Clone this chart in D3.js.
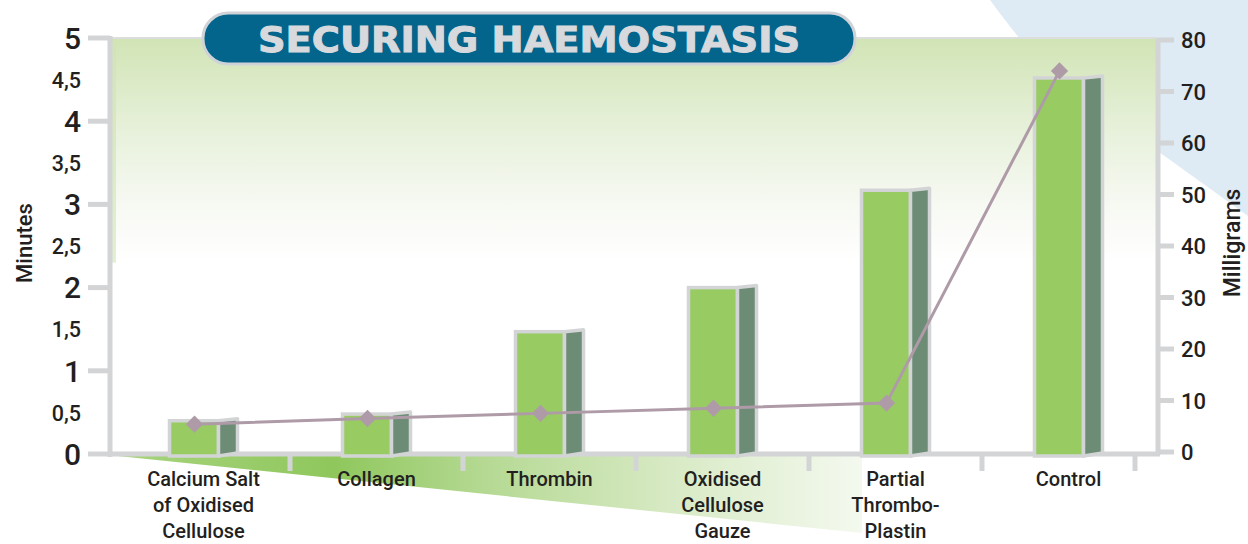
<!DOCTYPE html>
<html>
<head>
<meta charset="utf-8">
<script src="https://cdnjs.cloudflare.com/ajax/libs/d3/7.8.5/d3.min.js"></script>
<style>
  body { margin: 0; background: #fff; }
  text { font-family: Roboto, "DejaVu Sans", sans-serif; fill: #231f20; }
</style>
</head>
<body>
<div id="display-container"></div>
<script>
// data
var categories = ["Calcium Salt of Oxidised Cellulose", "Collagen", "Thrombin",
                  "Oxidised Cellulose Gauze", "Partial Thrombo-Plastin", "Control"];
var labelLines = [["Calcium Salt", "of Oxidised", "Cellulose"], ["Collagen"], ["Thrombin"],
                  ["Oxidised", "Cellulose", "Gauze"], ["Partial", "Thrombo-", "Plastin"], ["Control"]];
var minutes = [0.4, 0.48, 1.47, 2.0, 3.17, 4.52];
var milligrams = [5.4, 6.5, 7.5, 8.5, 9.5, 74];
var minuteTicks = [0, 0.5, 1, 1.5, 2, 2.5, 3, 3.5, 4, 4.5, 5];
var mgTicks = [0, 10, 20, 30, 40, 50, 60, 70, 80];
var title = "SECURING HAEMOSTASIS";

var width = 1248, height = 544;
var grey = "#d3d4d6";

var svg = d3.select("#display-container").append("svg")
    .attr("width", width)
    .attr("height", height);

var x = d3.scaleBand().domain(categories).range([117, 1155]);
var yL = d3.scaleLinear().domain([0, 5]).range([454, 38]);
var yR = d3.scaleLinear().domain([0, 80]).range([452, 40]);

var defs = svg.append("defs");
var bgGrad = defs.append("linearGradient").attr("id", "bgGrad")
    .attr("x1", 0).attr("y1", 0).attr("x2", 0).attr("y2", 1);
bgGrad.append("stop").attr("offset", 0).attr("stop-color", "#d1e4b5");
bgGrad.append("stop").attr("offset", 0.45).attr("stop-color", "#e9f2de");
bgGrad.append("stop").attr("offset", 0.75).attr("stop-color", "#f7f9f3");
bgGrad.append("stop").attr("offset", 1).attr("stop-color", "#ffffff");

var edgeGrad = defs.append("linearGradient").attr("id", "edgeGrad")
    .attr("x1", 0).attr("y1", 0).attr("x2", 0).attr("y2", 1);
edgeGrad.append("stop").attr("offset", 0).attr("stop-color", "#d1e4b5");
edgeGrad.append("stop").attr("offset", 1).attr("stop-color", "#e2f0d3");

var floorGrad = defs.append("linearGradient").attr("id", "floorGrad")
    .attr("x1", 0).attr("y1", 0).attr("x2", 1).attr("y2", 0);
floorGrad.append("stop").attr("offset", 0).attr("stop-color", "#a9d480");
floorGrad.append("stop").attr("offset", 0.3).attr("stop-color", "#8fc75c");
floorGrad.append("stop").attr("offset", 0.5).attr("stop-color", "#b5d993");
floorGrad.append("stop").attr("offset", 0.75).attr("stop-color", "#d8eac5");
floorGrad.append("stop").attr("offset", 1).attr("stop-color", "#f4f9ef");

// light blue corner shape
svg.append("path")
    .attr("d", "M990,0 L1248,0 L1248,216 L1045,70 Q1012,30 990,0 Z")
    .attr("fill", "#deebf4");

// plot background
svg.append("rect")
    .attr("x", 112).attr("y", yL(5))
    .attr("width", 1157 - 112).attr("height", yL(0) - yL(5))
    .attr("fill", "#fff");
svg.append("rect")
    .attr("x", 112).attr("y", yL(5))
    .attr("width", 1157 - 112).attr("height", yL(2.3) - yL(5))
    .attr("fill", "url(#bgGrad)");
svg.append("rect")
    .attr("x", 112).attr("y", yL(5))
    .attr("width", 4).attr("height", yL(2.3) - yL(5))
    .attr("fill", "url(#edgeGrad)");
svg.append("line")
    .attr("x1", 112).attr("x2", 1157)
    .attr("y1", yL(5)).attr("y2", yL(5))
    .attr("stroke", "#dcdddd").attr("stroke-width", 2);

// green floor under the baseline
svg.append("path")
    .attr("d", "M108," + (yL(0) + 1) + " L862," + (yL(0) + 1) + " L862,533 Z")
    .attr("fill", "url(#floorGrad)");

// category separators below the baseline
var seps = categories.map(function(c) { return x(c) + x.step(); });
seps[seps.length - 1] = x(categories[categories.length - 1]) + x.step() - 20;
svg.selectAll(".sep").data(seps).enter().append("line")
    .attr("class", "sep")
    .attr("x1", function(d) { return d; }).attr("x2", function(d) { return d; })
    .attr("y1", yL(0)).attr("y2", yL(0) + 17)
    .attr("stroke", grey).attr("stroke-width", 5);

// baseline and axes
svg.append("line")
    .attr("x1", 108).attr("x2", 1160).attr("y1", yL(0)).attr("y2", yL(0))
    .attr("stroke", grey).attr("stroke-width", 5);
svg.append("line")
    .attr("x1", 110).attr("x2", 110).attr("y1", yL(5) - 2).attr("y2", yL(0) + 3)
    .attr("stroke", grey).attr("stroke-width", 5);
svg.append("line")
    .attr("x1", 1158).attr("x2", 1158).attr("y1", yR(80) - 2).attr("y2", yR(0) + 3)
    .attr("stroke", grey).attr("stroke-width", 5);

// left ticks, marks only on whole minutes
var lt = svg.selectAll(".lt").data(minuteTicks).enter().append("g").attr("class", "lt");
lt.filter(function(d) { return d % 1 === 0; }).append("line")
    .attr("x1", 88).attr("x2", 110)
    .attr("y1", function(d) { return yL(d); }).attr("y2", function(d) { return yL(d); })
    .attr("stroke", grey).attr("stroke-width", 5);
lt.append("text")
    .attr("x", 81)
    .attr("y", function(d) { return yL(d); })
    .attr("dy", function(d) { return d % 1 === 0 ? "0.36em" : "0.38em"; })
    .attr("text-anchor", "end")
    .style("font-size", function(d) { return d % 1 === 0 ? "30px" : "21.5px"; })
    .style("font-weight", 500)
    .text(function(d) { return String(d).replace(".", ","); });

// right ticks
var rt = svg.selectAll(".rt").data(mgTicks).enter().append("g").attr("class", "rt");
rt.append("line")
    .attr("x1", 1158).attr("x2", 1174)
    .attr("y1", function(d) { return yR(d); }).attr("y2", function(d) { return yR(d); })
    .attr("stroke", grey).attr("stroke-width", 5);
rt.append("text")
    .attr("x", 1181)
    .attr("y", function(d) { return yR(d); })
    .attr("dy", "0.37em")
    .style("font-size", "22px")
    .style("font-weight", 500)
    .text(function(d) { return d; });

// axis titles
svg.append("text")
    .attr("transform", "translate(32,243) rotate(-90)")
    .attr("text-anchor", "middle")
    .style("font-size", "22px").style("font-weight", 500)
    .text("Minutes");
svg.append("text")
    .attr("transform", "translate(1240,243) rotate(-90)")
    .attr("text-anchor", "middle")
    .style("font-size", "23px").style("font-weight", 500)
    .text("Milligrams");

// bars
var base = yL(0) + 2;
var bars = svg.selectAll(".bar").data(categories).enter().append("g").attr("class", "bar");
bars.append("rect")
    .attr("x", function(d) { return x(d) + x.step() / 2 - 34; })
    .attr("y", function(d, i) { return yL(minutes[i]); })
    .attr("width", 49)
    .attr("height", function(d, i) { return base - yL(minutes[i]); })
    .attr("fill", "#99cb63")
    .attr("stroke", grey).attr("stroke-width", 3.5);
bars.append("path")
    .attr("d", function(d, i) {
        var c = x(d) + x.step() / 2, t = yL(minutes[i]);
        return "M" + (c + 15) + "," + t + " L" + (c + 34) + "," + (t - 2) +
            " L" + (c + 34) + "," + (base - 3) + " L" + (c + 15) + "," + base + " Z";
    })
    .attr("fill", "#6d8c75")
    .attr("stroke", grey).attr("stroke-width", 3.5).attr("stroke-linejoin", "round");

// line series (milligrams)
var px = function(d) { return x(d) + x.step() / 2 - 9; };
var line = d3.line()
    .x(function(d, i) { return px(categories[i]); })
    .y(function(d) { return yR(d); });
svg.append("path")
    .datum(milligrams)
    .attr("d", line)
    .attr("fill", "none")
    .attr("stroke", "#ae9ba7").attr("stroke-width", 3);
svg.selectAll(".pt").data(milligrams).enter().append("path")
    .attr("class", "pt")
    .attr("d", d3.symbol().type(d3.symbolSquare).size(150))
    .attr("transform", function(d, i) {
        return "translate(" + px(categories[i]) + "," + yR(d) + ") rotate(45)";
    })
    .attr("fill", "#ae9ba7");

// category labels
var lab = svg.selectAll(".lab").data(categories).enter().append("text")
    .attr("class", "lab")
    .attr("text-anchor", "middle")
    .style("font-size", "20px").style("font-weight", 500);
lab.each(function(d, i) {
    var t = d3.select(this);
    labelLines[i].forEach(function(s, j) {
        t.append("tspan")
            .attr("x", x(d) + x.step() / 2)
            .attr("y", 486 + j * 26)
            .text(s);
    });
});

// title pill
svg.append("rect")
    .attr("x", 203).attr("y", 13).attr("width", 652).attr("height", 51).attr("rx", 25)
    .attr("fill", "#03658c")
    .attr("stroke", "#cfd3d7").attr("stroke-width", 3);
svg.append("text")
    .attr("x", 529).attr("y", 52)
    .attr("text-anchor", "middle")
    .attr("textLength", 542).attr("lengthAdjust", "spacingAndGlyphs")
    .style("font-family", "'DejaVu Sans', sans-serif")
    .style("font-size", "35px").style("font-weight", "bold")
    .style("fill", "#d7d9dd")
    .style("stroke", "#d7d9dd").style("stroke-width", 1)
    .text(title);
</script>
</body>
</html>
